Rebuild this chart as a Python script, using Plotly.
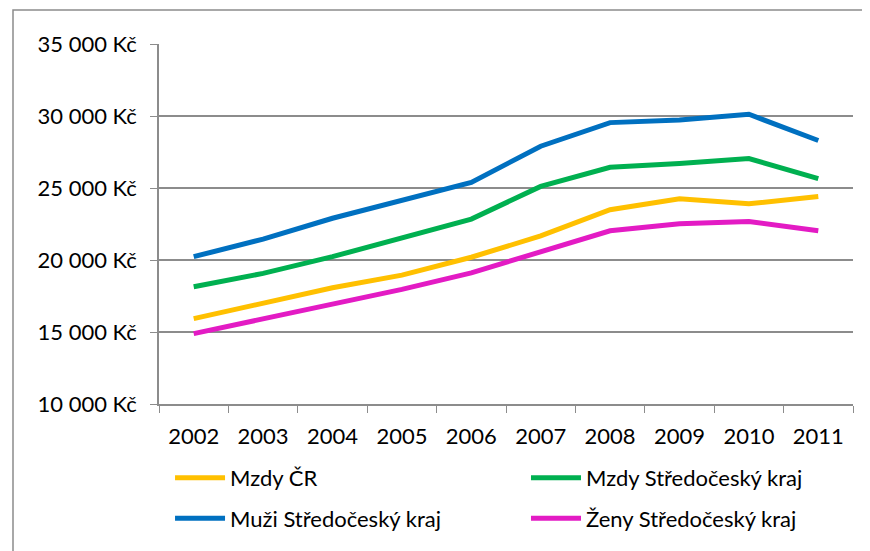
import plotly.graph_objects as go

years = ["2002", "2003", "2004", "2005", "2006", "2007", "2008", "2009", "2010", "2011"]
mzdy_cr = [15930, 16980, 18070, 18950, 20190, 21670, 23490, 24250, 23900, 24410]
mzdy_stc = [18140, 19070, 20230, 21560, 22840, 25110, 26440, 26700, 27050, 25650]
muzi_stc = [20230, 21450, 22900, 24140, 25390, 27900, 29540, 29720, 30120, 28300]
zeny_stc = [14890, 15930, 16930, 17960, 19110, 20570, 22030, 22510, 22670, 22030]

series = [
    ("Mzdy ČR", mzdy_cr, "#FFC000", "legend"),
    ("Mzdy Středočeský kraj", mzdy_stc, "#00B050", "legend2"),
    ("Muži Středočeský kraj", muzi_stc, "#0070C0", "legend"),
    ("Ženy Středočeský kraj", zeny_stc, "#E31BC4", "legend2"),
]

fig = go.Figure()
for name, vals, col, leg in series:
    fig.add_trace(go.Scatter(x=years, y=vals, name=name, mode="lines",
                             legend=leg, legendgroup=name,
                             line=dict(color=col, width=5)))

grid = "#8c8c8c"
L, T, W, H = 151, 36, 694, 360
legfont = dict(family="Lato", size=22, color="black")
fig.update_layout(
    width=870, height=551,
    margin=dict(l=L, r=870 - L - W, t=T, b=551 - T - H),
    paper_bgcolor="white", plot_bgcolor="white",
    font=dict(family="Lato", size=22, color="black"),
    separators=". ",
    showlegend=True,
    legend=dict(orientation="v", x=0.0159, xanchor="left", y=-0.147, yanchor="top",
                font=legfont, traceorder="grouped", tracegroupgap=9, itemwidth=50,
                bgcolor="rgba(0,0,0,0)"),
    legend2=dict(orientation="v", x=0.5288, xanchor="left", y=-0.147, yanchor="top",
                 font=legfont, traceorder="grouped", tracegroupgap=9, itemwidth=50,
                 bgcolor="rgba(0,0,0,0)"),
    shapes=[dict(type="rect", xref="paper", yref="paper",
                 x0=(5 - L) / W, x1=1.2, y0=-0.6, y1=(T + H - 2) / H,
                 line=dict(color=grid, width=1.5), fillcolor="rgba(0,0,0,0)", layer="below")],
)
fig.update_xaxes(type="category", range=[-0.5, 9.5], tickson="boundaries",
                 ticks="outside", ticklen=7, tickcolor=grid, tickwidth=1.3,
                 showline=True, linecolor=grid, linewidth=1.5,
                 showgrid=False, ticklabelstandoff=12)
fig.update_yaxes(range=[10000, 35000], dtick=5000, tick0=10000,
                 tickformat=",d", ticksuffix=" Kč",
                 ticks="outside", ticklen=7, tickcolor=grid, tickwidth=1.3,
                 showline=True, linecolor=grid, linewidth=1.5,
                 showgrid=True, gridcolor=grid, gridwidth=1.5,
                 zeroline=False, ticklabelstandoff=9)

fig.write_html("out.html")
